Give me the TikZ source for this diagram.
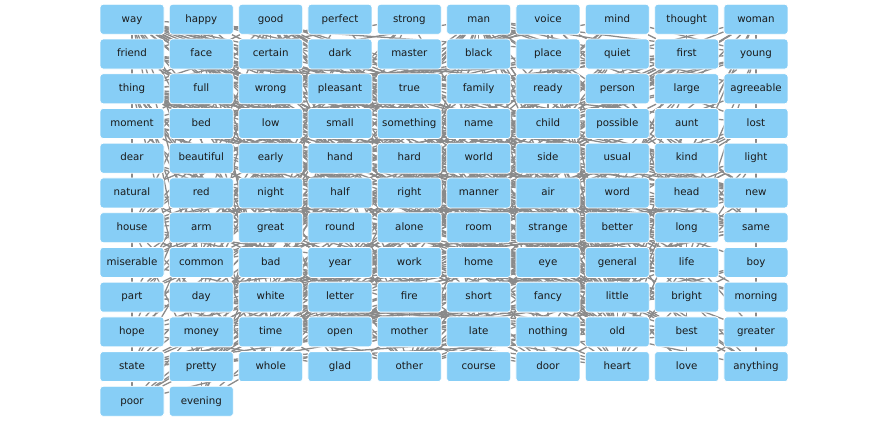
\documentclass[tikz,border=0pt]{standalone}
\usepackage{fontspec}
\setmainfont{DejaVu Sans}
\usetikzlibrary{backgrounds}
\definecolor{nodefill}{HTML}{87CEF6}
\definecolor{edgegray}{HTML}{8A8A8A}
\definecolor{txt}{HTML}{1A1A1A}
\tikzset{
  wordbox/.style={rectangle, rounded corners=3pt, fill=nodefill, draw=white, line width=0.8pt,
    minimum width=64pt, minimum height=30pt, inner sep=0pt, text=txt,
    text height=7.6pt, text depth=2.1pt,
    font=\fontsize{10.25}{12}\selectfont},
  edge/.style={draw=edgegray, line width=1.3pt}
}
\newcommand\linkall[2]{\foreach \b in {#2}{%
  \path (w-#1.center); \pgfgetlastxy{\xa}{\ya}%
  \path (w-\b.center); \pgfgetlastxy{\xb}{\yb}%
  \pgfmathtruncatemacro\samerow{abs(\ya-\yb)<1}%
  \ifnum\samerow=0 \draw[edge] (w-#1) -- (w-\b);\fi}}
\begin{document}
\begin{tikzpicture}[x=1pt,y=-1pt]
\useasboundingbox (0,0) rectangle (888,420);
\foreach \w [count=\i from 0] in {way,happy,good,perfect,strong,man,voice,mind,thought,woman,
  friend,face,certain,dark,master,black,place,quiet,first,young,
  thing,full,wrong,pleasant,true,family,ready,person,large,agreeable,
  moment,bed,low,small,something,name,child,possible,aunt,lost,
  dear,beautiful,early,hand,hard,world,side,usual,kind,light,
  natural,red,night,half,right,manner,air,word,head,new,
  house,arm,great,round,alone,room,strange,better,long,same,
  miserable,common,bad,year,work,home,eye,general,life,boy,
  part,day,white,letter,fire,short,fancy,little,bright,morning,
  hope,money,time,open,mother,late,nothing,old,best,greater,
  state,pretty,whole,glad,other,course,door,heart,love,anything,
  poor,evening}{
  \pgfmathtruncatemacro\r{\i/10}
  \pgfmathtruncatemacro\c{mod(\i,10)}
  \node[wordbox] (w-\w) at ({132+69.33*\c},{19.3+34.73*\r}) {\w};
}
\begin{pgfonlayer}{background}
\linkall{little}{man,thing,way,time,room,house,boy,child,woman,head,hand,face,door,voice,moment,night,friend,bed,money,fire,mother,work,morning,heart,letter,eye,state,side,aunt,place,family,anything,home,fancy,pretty}
\linkall{old}{man,woman,friend,house,way,time,face,place,thing,room,boy,home,door,mother,aunt,life,day,manner,state,family,voice,air,word,child,master,fancy}
\linkall{good}{man,thing,way,time,friend,night,day,morning,heart,name,home,mother,family,work,woman,hope,air,fire,child,house,life,nothing,anything}
\linkall{other}{man,thing,way,day,side,hand,night,room,woman,part,time,door,boy,life,person,moment,place,word,eye,head,course}
\linkall{great}{man,way,thing,time,house,world,hand,heart,state,name,family,room,hope,work,part,fire,door}
\linkall{young}{man,woman,friend,person,face,mind,heart,boy,child,mother,life,thing,house,master}
\linkall{long}{time,way,day,night,hand,arm,letter,year,life,thing,moment,room}
\linkall{same}{way,time,thing,manner,day,night,moment,place,word,state,air,room,voice,house}
\linkall{whole}{time,day,night,life,world,thing,family,house,way,year,manner,course,heart,mind}
\linkall{first}{time,thing,day,night,place,word,moment,year,man,letter,mind,thought,person,part,name}
\linkall{poor}{man,woman,thing,child,mind,aunt,friend,house,life,dear}
\linkall{new}{man,house,life,thing,way,friend,world,place,year,day,state,name}
\linkall{better}{man,way,thing,life,part,hope,home,day,time,name}
\linkall{pretty}{face,woman,thing,child,house,work,way,name}
\linkall{strong}{man,hand,voice,mind,hope,heart,arm,face}
\linkall{happy}{home,life,day,man,woman,time,family,mother,child,face,evening}
\linkall{perfect}{state,manner,thing,way,man,woman}
\linkall{certain}{way,time,thing,man,part,state,manner,person}
\linkall{dark}{night,room,face,eye,head,house,side,door,evening}
\linkall{black}{eye,door,face,man,head,letter,night}
\linkall{quiet}{way,house,manner,room,voice,home,life,evening}
\linkall{full}{hand,face,time,mind,life,heart,moment,room,house}
\linkall{wrong}{way,thing,side,place,head,moment}
\linkall{pleasant}{face,way,manner,time,thing,evening,home,air,voice}
\linkall{true}{friend,heart,love,word,man,thing,mother,state}
\linkall{ready}{hand,money,thing,friend,moment,work}
\linkall{large}{house,room,eye,hand,man,family,door,money}
\linkall{agreeable}{man,woman,person,manner,thing,family}
\linkall{low}{voice,room,door,manner,thing,place,hand,house}
\linkall{small}{room,house,hand,voice,thing,money,child,boy,part,family}
\linkall{possible}{thing,way,manner,time,person,moment,state}
\linkall{lost}{time,child,man,word,mother,hope,friend}
\linkall{beautiful}{face,woman,child,thing,place,hand,eye,night,morning,evening,house}
\linkall{early}{morning,day,life,time,evening,part,year}
\linkall{hard}{work,thing,face,time,hand,heart,word,life,way}
\linkall{usual}{way,manner,time,place,state,thing,air,evening}
\linkall{kind}{man,friend,heart,word,way,woman,face,voice,thing,manner}
\linkall{light}{hand,heart,head,eye,room,fire,morning,door}
\linkall{natural}{way,manner,thing,state,life,voice,air}
\linkall{red}{face,fire,eye,hand,head,letter,door}
\linkall{half}{way,time,moment,day,year,night,thing,world,face,house}
\linkall{right}{hand,way,thing,side,mind,place,time,word,arm,head,man}
\linkall{round}{face,room,eye,head,house,world,arm,fire,door}
\linkall{alone}{man,woman,room,world,house,night}
\linkall{strange}{man,thing,place,way,manner,room,voice,word,face,house,world}
\linkall{miserable}{man,woman,thing,life,state,night,home,child,heart}
\linkall{common}{man,thing,way,work,world,life,word,house}
\linkall{bad}{man,thing,way,night,state,work,day,time,heart,name}
\linkall{general}{state,manner,way,air,thing,man,life,time,world}
\linkall{white}{face,hand,head,house,door,night,morning,letter,eye}
\linkall{bright}{eye,face,fire,day,morning,night,hope,heart}
\linkall{short}{time,way,letter,word,day,life,moment,night,year}
\linkall{late}{time,night,master,mother,day,home}
\linkall{best}{friend,thing,way,man,time,part,life,love,home}
\linkall{greater}{part,thing,man,love,state,hope,time}
\linkall{glad}{heart,eye,face,hope,time,thing,anything}
\linkall{open}{door,air,eye,hand,face,heart,letter}
\linkall{something}{little,strange,new,great,better,good,bad}
\linkall{nothing}{little,new,strange,other,better}
\linkall{anything}{new,strange,bad,better}
\linkall{love}{little}
\linkall{course}{usual,natural}
\linkall{dear}{old,little,good}
\end{pgfonlayer}
\end{tikzpicture}
\end{document}
